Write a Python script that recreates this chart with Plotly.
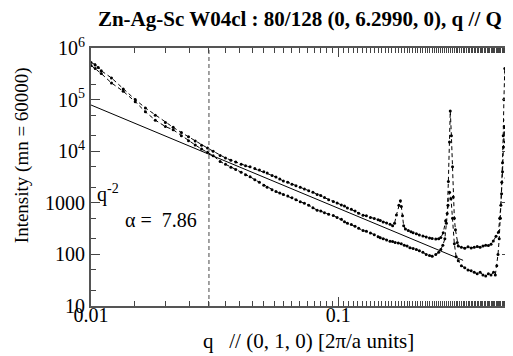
import plotly.graph_objects as go

# ---- data ----
q_upper = [0.0100, 0.0104, 0.0107, 0.0110, 0.0121, 0.0135, 0.0151, 0.0166, 0.0182, 0.0200,
           0.0215, 0.0232, 0.0248, 0.0264, 0.0280, 0.0296, 0.0312, 0.0333, 0.0350, 0.0368,
           0.0385, 0.0405, 0.0422, 0.0440, 0.0460, 0.0480, 0.0500, 0.0516, 0.0540, 0.0560,
           0.0580, 0.0600, 0.0625, 0.0650, 0.0675, 0.0702, 0.0730, 0.0760, 0.0790, 0.0822,
           0.0850, 0.0880, 0.0915, 0.0955, 0.0990, 0.1030, 0.1060, 0.1090, 0.1130, 0.1170,
           0.1210, 0.1260, 0.1300, 0.1350, 0.1400, 0.1450, 0.1480, 0.1520, 0.1570, 0.1620,
           0.1660, 0.1690, 0.1720, 0.1760, 0.1785, 0.1800, 0.1820, 0.1840, 0.1870, 0.1920,
           0.1970, 0.2010, 0.2070, 0.2130, 0.2200, 0.2270, 0.2340, 0.2400, 0.2480, 0.2550,
           0.2600, 0.2660, 0.2720, 0.2760, 0.2790, 0.2820, 0.2840, 0.2870, 0.2900, 0.2920,
           0.2950, 0.2980, 0.3030, 0.3060, 0.3150, 0.3250, 0.3350, 0.3450, 0.3550, 0.3650,
           0.3750, 0.3850, 0.3950, 0.4050, 0.4150, 0.4240, 0.4350, 0.4450, 0.4500, 0.4550,
           0.4590, 0.4620, 0.4650, 0.4680, 0.4720, 0.4750, 0.4780, 0.4810, 0.4840, 0.4880,
           0.4930, 0.4980]
i_upper = [525000, 470000, 417000, 363000, 263000, 160000, 100000, 69000, 50000, 36000,
           29000, 23000, 19000, 15800, 13000, 11500, 10000, 8300, 7400, 6700,
           6200, 5600, 5200, 5000, 4600, 4300, 4000, 3800, 3400, 3150,
           2900, 2650, 2500, 2300, 2150, 2000, 1850, 1720, 1600, 1450,
           1380, 1260, 1150, 1060, 990, 910, 870, 790, 750, 690,
           630, 575, 560, 520, 495, 470, 455, 425, 405, 385,
           360, 400, 580, 900, 1100, 850, 560, 360, 310, 290,
           275, 262, 252, 238, 228, 218, 208, 203, 198, 202,
           212, 262, 450, 620, 2600, 15000, 60000, 20000, 5000, 1300,
           500, 300, 170, 145, 138, 132, 140, 133, 138, 142,
           137, 146, 150, 148, 158, 182, 225, 270, 500, 900,
           2500, 6000, 20000, 100000, 400000, 250000, 40000, 5000, 1000, 400,
           260, 210]

q_lower = [0.0100, 0.0104, 0.0110, 0.0121, 0.0135, 0.0151, 0.0166, 0.0182, 0.0200, 0.0215,
           0.0232, 0.0248, 0.0264, 0.0280, 0.0296, 0.0312, 0.0333, 0.0350, 0.0368, 0.0385,
           0.0405, 0.0422, 0.0440, 0.0460, 0.0480, 0.0500, 0.0516, 0.0540, 0.0560, 0.0580,
           0.0600, 0.0625, 0.0650, 0.0675, 0.0702, 0.0730, 0.0760, 0.0790, 0.0822, 0.0850,
           0.0880, 0.0915, 0.0955, 0.0990, 0.1030, 0.1060, 0.1090, 0.1130, 0.1170, 0.1210,
           0.1260, 0.1300, 0.1350, 0.1400, 0.1450, 0.1480, 0.1520, 0.1570, 0.1620, 0.1660,
           0.1700, 0.1750, 0.1800, 0.1850, 0.1900, 0.1950, 0.2010, 0.2070, 0.2130, 0.2200,
           0.2270, 0.2340, 0.2400, 0.2480, 0.2550, 0.2600, 0.2650, 0.2700, 0.2740, 0.2780,
           0.2820, 0.2860, 0.2900, 0.2950, 0.3000, 0.3060, 0.3150, 0.3250, 0.3350, 0.3450,
           0.3550, 0.3650, 0.3750, 0.3850, 0.3950, 0.4050, 0.4150, 0.4250, 0.4320, 0.4380,
           0.4430, 0.4480, 0.4530, 0.4580, 0.4620, 0.4660, 0.4700, 0.4740, 0.4780, 0.4820,
           0.4860, 0.4900, 0.4950]
i_lower = [460000, 400000, 320000, 210000, 145000, 91000, 58000, 40000, 30000, 26000,
           20000, 16000, 13200, 11000, 9500, 8200, 6300, 5600, 4900, 4400,
           3900, 3500, 3200, 2800, 2500, 2200, 2000, 1800, 1650, 1550,
           1450, 1350, 1250, 1150, 1050, 980, 900, 800, 720, 690,
           640, 600, 570, 520, 480, 430, 400, 380, 350, 320,
           290, 280, 260, 240, 220, 210, 200, 190, 180, 178,
           170, 166, 160, 150, 145, 135, 130, 125, 118, 110,
           100, 95, 92, 100, 110, 125, 150, 200, 400, 900,
           1600, 1200, 500, 160, 90, 75, 60, 55, 50, 48,
           45, 42, 45, 40, 38, 42, 40, 45, 40, 60,
           100, 200, 500, 1500, 4000, 12000, 30000, 15000, 3000, 500,
           100, 40, 25]

alpha = 7.86
fit_range = [0.01, 0.32]
q_cut = 0.03

x_range = [0.01, 0.5]
y_range = [10, 1e6]
y_tickvals = [10, 100, 1000, 1e4, 1e5, 1e6]
y_ticktext = ["10", "100", "1000", "10<sup>4</sup>", "10<sup>5</sup>", "10<sup>6</sup>"]
x_tickvals = [0.01, 0.1]
x_ticktext = ["0.01", "0.1"]
x_title = "q\u00a0\u00a0 // (0, 1, 0) [2π/a units]"
y_title = "Intensity (mn = 60000)"
chart_title = "Zn-Ag-Sc W04cl : 80/128 (0, 6.2990, 0), q // Q"

FONT = "Liberation Serif, Times New Roman, serif"
NB = "\u00a0"

fig = go.Figure()
for qq, ii in [(q_upper, i_upper), (q_lower, i_lower)]:
    fig.add_trace(go.Scatter(x=qq, y=ii, mode="lines+markers",
                             line=dict(color="black", width=1, dash="4px,3px"),
                             marker=dict(color="black", size=3),
                             showlegend=False))

fit_y = [alpha / (q ** 2) for q in fit_range]
fig.add_trace(go.Scatter(x=fit_range, y=fit_y, mode="lines",
                         line=dict(color="black", width=1), showlegend=False))

fig.add_trace(go.Scatter(x=[q_cut, q_cut], y=y_range, mode="lines",
                         line=dict(color="#666666", width=1.2, dash="4px,3px"),
                         showlegend=False))

axis_common = dict(type="log", showgrid=False, zeroline=False, showline=True,
                   linecolor="#555555", linewidth=2, mirror="allticks",
                   ticks="inside", ticklen=9, tickwidth=1, tickcolor="#444444",
                   automargin=False,
                   minor=dict(ticks="inside", ticklen=5, tickwidth=1, tickcolor="#444444",
                              showgrid=False),
                   tickfont=dict(family=FONT, size=20, color="black"))

fig.update_xaxes(**axis_common, range=[-2, -0.30103],
                 tickvals=x_tickvals, ticktext=x_ticktext, ticklabelstandoff=-10)
fig.update_yaxes(**axis_common, range=[1, 6],
                 tickvals=y_tickvals, ticktext=y_ticktext, ticklabelstandoff=0)

# axis titles placed as annotations for exact positioning
fig.add_annotation(x=0.519, y=-0.136, xref="paper", yref="paper",
                   xanchor="center", yanchor="middle", text=x_title, showarrow=False,
                   font=dict(family=FONT, size=21, color="black"))
fig.add_annotation(x=-0.164, y=0.585, xref="paper", yref="paper", textangle=-90,
                   xanchor="center", yanchor="middle", text=y_title, showarrow=False,
                   font=dict(family=FONT, size=19, color="black"))

fig.add_annotation(x=-1.982, y=3.18, xref="x", yref="y", xanchor="left", yanchor="middle",
                   text="q<sup>-2</sup>", showarrow=False,
                   font=dict(family=FONT, size=20, color="black"))
fig.add_annotation(x=-1.872, y=2.66, xref="x", yref="y", xanchor="left", yanchor="middle",
                   text="α =" + NB + NB + str(alpha), showarrow=False,
                   font=dict(family=FONT, size=20, color="black"))

# the page body adds an 8px margin, so the figure is 8px smaller and margins shifted
fig.update_layout(
    width=505, height=348,
    margin=dict(l=83, r=2, t=40, b=50),
    paper_bgcolor="white", plot_bgcolor="white",
    title=dict(text="<b>" + chart_title + "</b>",
               x=0.578, xanchor="center", y=0.97, yanchor="middle",
               font=dict(family=FONT, size=21, color="black")),
)

fig.write_html("out.html")
